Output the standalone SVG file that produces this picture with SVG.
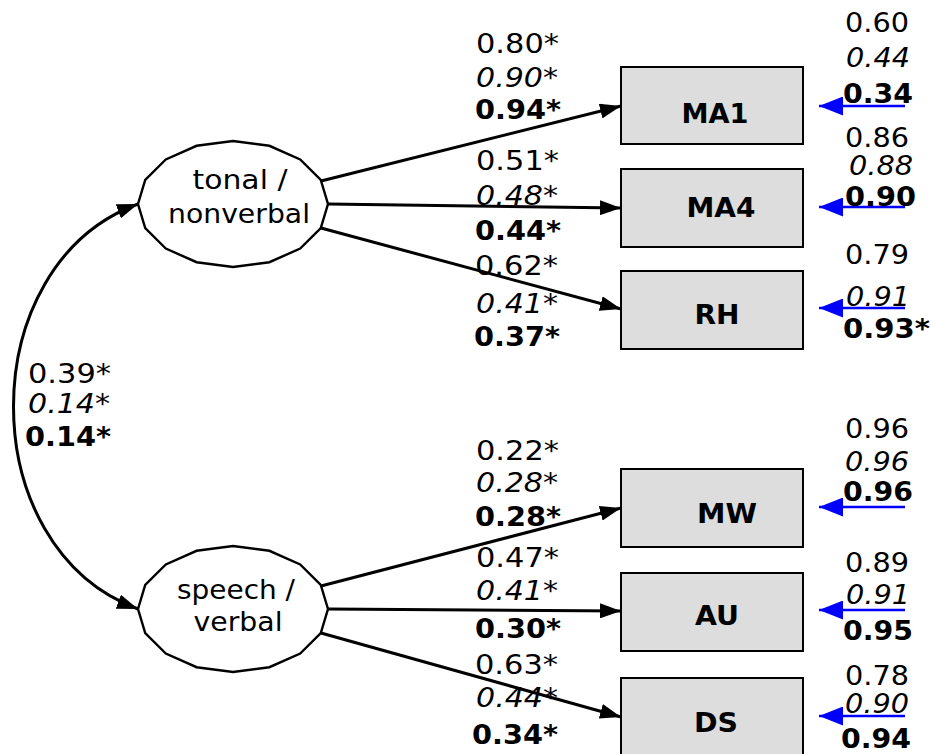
<svg xmlns="http://www.w3.org/2000/svg" width="931" height="754" viewBox="0 0 931 754">
<style>
.t{font-family:"DejaVu Sans",Verdana,sans-serif;font-size:27px;fill:#000}
.i{font-style:italic}
.b{font-weight:bold}
.n{font-family:"DejaVu Sans",Verdana,sans-serif;font-size:26.5px;fill:#000;text-anchor:middle}
.bx{fill:#dddddd;stroke:#000;stroke-width:2}
.bl{font-family:"DejaVu Sans",Verdana,sans-serif;font-size:27px;font-weight:bold;fill:#000;text-anchor:middle}
.el{fill:#fff;stroke:#000;stroke-width:2.4}
.c{fill:none;stroke:#000;stroke-width:3}
.e{fill:none;stroke:#0000ff;stroke-width:2.5}
</style>
<defs>
<marker id="ah" markerUnits="userSpaceOnUse" viewBox="0 0 21 15" refX="21" refY="7.5" markerWidth="21" markerHeight="15" orient="auto-start-reverse"><path d="M0,0 L21,7.5 L0,15 z" fill="#000"/></marker>
<marker id="bh" markerUnits="userSpaceOnUse" viewBox="0 0 24 19" refX="24" refY="9.5" markerWidth="24" markerHeight="19" orient="auto"><path d="M0,0 L24,9.5 L0,19 z" fill="#0000ff"/></marker>
<polygon id="oct" points="95,0 87.77,-24.11 67.18,-44.55 36.36,-58.21 0,-63 -36.36,-58.21 -67.18,-44.55 -87.77,-24.11 -95,0 -87.77,24.11 -67.18,44.55 -36.36,58.21 0,63 36.36,58.21 67.18,44.55 87.77,24.11"/>
</defs>

<g id="connectors">
<path class="c" d="M321,181 L621,106" marker-end="url(#ah)"/>
<path class="c" d="M328,204 L621,208" marker-end="url(#ah)"/>
<path class="c" d="M321,228 L621,309" marker-end="url(#ah)"/>
<path class="c" d="M321,586 L621,508" marker-end="url(#ah)"/>
<path class="c" d="M328,609 L621,611" marker-end="url(#ah)"/>
<path class="c" d="M321,633 L621,717" marker-end="url(#ah)"/>
<path class="c" d="M138,204 C -28,265 -28,548 138,609" marker-start="url(#ah)" marker-end="url(#ah)"/>
<path class="e" d="M905,106 L819,106" marker-end="url(#bh)"/>
<path class="e" d="M905,207 L819,207" marker-end="url(#bh)"/>
<path class="e" d="M905,308 L819,308" marker-end="url(#bh)"/>
<path class="e" d="M905,507 L819,507" marker-end="url(#bh)"/>
<path class="e" d="M905,610 L819,610" marker-end="url(#bh)"/>
<path class="e" d="M905,716 L819,716" marker-end="url(#bh)"/>
</g>

<g id="tonal">
<use href="#oct" class="el" transform="translate(233,204)"/>
<text class="n" x="240" y="189" textLength="95" lengthAdjust="spacingAndGlyphs">tonal /</text>
<text class="n" x="239" y="223" textLength="142" lengthAdjust="spacingAndGlyphs">nonverbal</text>
</g>
<g id="speech">
<use href="#oct" class="el" transform="translate(233,609)"/>
<text class="n" x="236" y="599" textLength="118" lengthAdjust="spacingAndGlyphs">speech /</text>
<text class="n" x="238" y="631" textLength="89" lengthAdjust="spacingAndGlyphs">verbal</text>
</g>

<g id="MA1"><rect class="bx" x="621" y="67" width="182" height="77"/><text class="bl" x="715" y="123" textLength="67" lengthAdjust="spacingAndGlyphs">MA1</text></g>
<g id="MA4"><rect class="bx" x="621" y="169" width="182" height="78"/><text class="bl" x="721" y="217" textLength="69" lengthAdjust="spacingAndGlyphs">MA4</text></g>
<g id="RH"><rect class="bx" x="621" y="271" width="182" height="78"/><text class="bl" x="717" y="324" textLength="45" lengthAdjust="spacingAndGlyphs">RH</text></g>
<g id="MW"><rect class="bx" x="621" y="469" width="182" height="78"/><text class="bl" x="727" y="523" textLength="60" lengthAdjust="spacingAndGlyphs">MW</text></g>
<g id="AU"><rect class="bx" x="621" y="573" width="182" height="78"/><text class="bl" x="717" y="625" textLength="44" lengthAdjust="spacingAndGlyphs">AU</text></g>
<g id="DS"><rect class="bx" x="621" y="678" width="182" height="80"/><text class="bl" x="716" y="732" textLength="44" lengthAdjust="spacingAndGlyphs">DS</text></g>

<g id="path-labels">
<text class="t" x="476" y="53" textLength="83" lengthAdjust="spacingAndGlyphs">0.80*</text>
<text class="t i" x="476" y="87" textLength="82" lengthAdjust="spacingAndGlyphs">0.90*</text>
<text class="t b" x="475" y="119" textLength="86" lengthAdjust="spacingAndGlyphs">0.94*</text>
<text class="t" x="476" y="170" textLength="83" lengthAdjust="spacingAndGlyphs">0.51*</text>
<text class="t i" x="476" y="205" textLength="82" lengthAdjust="spacingAndGlyphs">0.48*</text>
<text class="t b" x="475" y="240" textLength="86" lengthAdjust="spacingAndGlyphs">0.44*</text>
<text class="t" x="475" y="275" textLength="83" lengthAdjust="spacingAndGlyphs">0.62*</text>
<text class="t i" x="476" y="313" textLength="82" lengthAdjust="spacingAndGlyphs">0.41*</text>
<text class="t b" x="474" y="346" textLength="86" lengthAdjust="spacingAndGlyphs">0.37*</text>
<text class="t" x="476" y="460" textLength="83" lengthAdjust="spacingAndGlyphs">0.22*</text>
<text class="t i" x="476" y="492" textLength="82" lengthAdjust="spacingAndGlyphs">0.28*</text>
<text class="t b" x="475" y="526" textLength="86" lengthAdjust="spacingAndGlyphs">0.28*</text>
<text class="t" x="476" y="567" textLength="83" lengthAdjust="spacingAndGlyphs">0.47*</text>
<text class="t i" x="476" y="600" textLength="82" lengthAdjust="spacingAndGlyphs">0.41*</text>
<text class="t b" x="475" y="638" textLength="86" lengthAdjust="spacingAndGlyphs">0.30*</text>
<text class="t" x="475" y="674" textLength="83" lengthAdjust="spacingAndGlyphs">0.63*</text>
<text class="t i" x="476" y="707" textLength="82" lengthAdjust="spacingAndGlyphs">0.44*</text>
<text class="t b" x="472" y="744" textLength="86" lengthAdjust="spacingAndGlyphs">0.34*</text>
<text class="t" x="28" y="383" textLength="83" lengthAdjust="spacingAndGlyphs">0.39*</text>
<text class="t i" x="28" y="413" textLength="82" lengthAdjust="spacingAndGlyphs">0.14*</text>
<text class="t b" x="25" y="446" textLength="86" lengthAdjust="spacingAndGlyphs">0.14*</text>
</g>

<g id="error-labels">
<text class="t" x="845" y="32" textLength="64" lengthAdjust="spacingAndGlyphs">0.60</text>
<text class="t i" x="846" y="67" textLength="64" lengthAdjust="spacingAndGlyphs">0.44</text>
<text class="t b" x="843" y="103" textLength="70" lengthAdjust="spacingAndGlyphs">0.34</text>
<text class="t" x="845" y="147" textLength="64" lengthAdjust="spacingAndGlyphs">0.86</text>
<text class="t i" x="849" y="175" textLength="64" lengthAdjust="spacingAndGlyphs">0.88</text>
<text class="t b" x="845" y="206" textLength="71" lengthAdjust="spacingAndGlyphs">0.90</text>
<text class="t" x="845" y="264" textLength="64" lengthAdjust="spacingAndGlyphs">0.79</text>
<text class="t i" x="846" y="306" textLength="64" lengthAdjust="spacingAndGlyphs">0.91</text>
<text class="t b" x="843" y="338" textLength="87" lengthAdjust="spacingAndGlyphs">0.93*</text>
<text class="t" x="845" y="438" textLength="64" lengthAdjust="spacingAndGlyphs">0.96</text>
<text class="t i" x="845" y="471" textLength="64" lengthAdjust="spacingAndGlyphs">0.96</text>
<text class="t b" x="843" y="501" textLength="70" lengthAdjust="spacingAndGlyphs">0.96</text>
<text class="t" x="845" y="572" textLength="64" lengthAdjust="spacingAndGlyphs">0.89</text>
<text class="t i" x="846" y="604" textLength="64" lengthAdjust="spacingAndGlyphs">0.91</text>
<text class="t b" x="843" y="640" textLength="70" lengthAdjust="spacingAndGlyphs">0.95</text>
<text class="t" x="845" y="685" textLength="64" lengthAdjust="spacingAndGlyphs">0.78</text>
<text class="t i" x="845" y="713" textLength="64" lengthAdjust="spacingAndGlyphs">0.90</text>
<text class="t b" x="841" y="748" textLength="70" lengthAdjust="spacingAndGlyphs">0.94</text>
</g>
</svg>
